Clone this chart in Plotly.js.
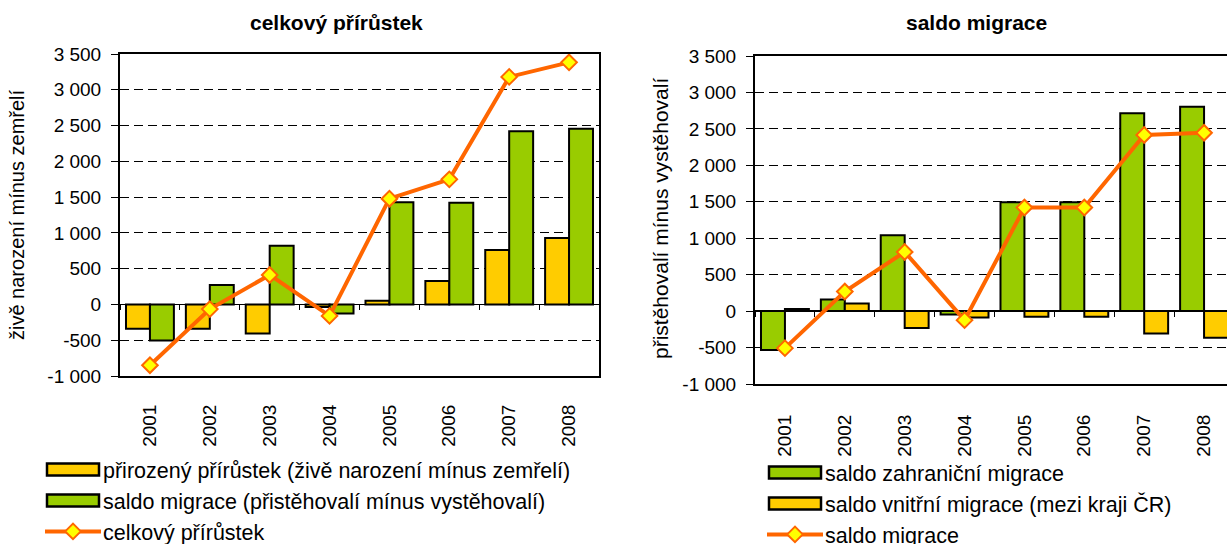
<!DOCTYPE html>
<html>
<head>
<meta charset="utf-8">
<script src="https://cdn.plot.ly/plotly-3.0.1.min.js"></script>
<style>
  html, body { margin: 0; padding: 0; overflow: hidden; background: #fff; }
  #chart { width: 1240px; height: 544px; }
</style>
</head>
<body>
<div id="chart"></div>
<script>
// ---------- data ----------
const years = ["2001", "2002", "2003", "2004", "2005", "2006", "2007", "2008"];

// left chart: celkový přírůstek
const prirozenyPrirustek = [-340, -340, -405, -37, 50, 326, 760, 928];
const saldoMigrace = [-504, 270, 820, -126, 1427, 1422, 2420, 2457];
const celkovyPrirustek = [-850, -65, 412, -160, 1478, 1748, 3180, 3383];

// right chart: saldo migrace
const saldoZahranicni = [-535, 160, 1042, -45, 1494, 1494, 2714, 2805];
const saldoVnitrni = [30, 105, -233, -86, -78, -78, -306, -366];
const saldoMigraceCelkem = [-508, 268, 812, -124, 1421, 1421, 2417, 2447];

const yTickVals = [-1000, -500, 0, 500, 1000, 1500, 2000, 2500, 3000, 3500];
const yTickText = ["-1 000", "-500", "0", "500", "1 000", "1 500", "2 000", "2 500", "3 000", "3 500"];

const leftTitle = "celkový přírůstek";
const rightTitle = "saldo migrace";
const leftYTitle = "živě narození mínus zemřelí";
const rightYTitle = "přistěhovalí mínus vystěhovalí";
const namesLeft = ["přirozený přírůstek (živě narození mínus zemřelí)", "saldo migrace (přistěhovalí mínus vystěhovalí)", "celkový přírůstek"];
const namesRight = ["saldo zahraniční migrace", "saldo vnitřní migrace (mezi kraji ČR)", "saldo migrace"];

// ---------- styling ----------
const W = 1240, H = 544;
const fx = p => p / W;
const fy = p => 1 - p / H;
const FONT = "Liberation Sans, Arial, sans-serif";
const YELLOW = "#FFCC00", GREEN = "#99CC00", ORANGE = "#FF6600", MARK = "#FFFF00";
const YMIN = -1000, YMAX = 3500;
const TICK_SIZE = 19, TEXT_SIZE = 21.5;
const LEGEND_TEXT_X = 70;

const L = { x0: 120, x1: 599, y0: 54, y1: 376 };
const R = { x0: 755, x1: 1234, y0: 56, y1: 384 };

function barTrace(name, y, color, xa, ya, lg) {
  return { type: "bar", name: name, x: years, y: y, xaxis: xa, yaxis: ya, legend: lg,
    marker: { color: color, line: { color: "#000", width: 2 } } };
}
function lineTrace(name, y, xa, ya, lg) {
  return { type: "scatter", mode: "lines+markers", name: name, x: years, y: y, xaxis: xa, yaxis: ya, legend: lg,
    line: { color: ORANGE, width: 4 },
    marker: { symbol: "diamond", size: 12, color: MARK, line: { color: ORANGE, width: 2 } } };
}
function ghost(xa, ya) {
  return { type: "scatter", mode: "markers", x: years, y: years.map(() => null), xaxis: xa, yaxis: ya,
    showlegend: false, hoverinfo: "skip", marker: { opacity: 0 } };
}

const data = [
  barTrace(namesLeft[0], prirozenyPrirustek, YELLOW, "x", "y", "legend"),
  barTrace(namesLeft[1], saldoMigrace, GREEN, "x", "y", "legend"),
  lineTrace(namesLeft[2], celkovyPrirustek, "x", "y", "legend"),
  barTrace(namesRight[0], saldoZahranicni, GREEN, "x2", "y2", "legend2"),
  barTrace(namesRight[1], saldoVnitrni, YELLOW, "x2", "y2", "legend2"),
  lineTrace(namesRight[2], saldoMigraceCelkem, "x2", "y2", "legend2"),
  ghost("x3", "y"),
  ghost("x4", "y2")
];

function xAxis(box, ya, standoff) {
  return { domain: [fx(box.x0), fx(box.x1)], anchor: ya, type: "category", categoryorder: "array",
    categoryarray: years, range: [-0.5, 7.5], showline: true, mirror: true, linecolor: "#000", linewidth: 2,
    ticks: "", tickangle: -90, ticklabelstandoff: standoff, showgrid: false, zeroline: false, automargin: false,
    tickfont: { family: FONT, size: TICK_SIZE, color: "#000" }, fixedrange: true };
}
function yAxis(box, xa) {
  return { domain: [fy(box.y1), fy(box.y0)], anchor: xa, range: [YMIN, YMAX], tickmode: "array",
    tickvals: yTickVals, ticktext: yTickText, showline: true, mirror: true, linecolor: "#000", linewidth: 2,
    ticks: "outside", ticklen: 7, tickcolor: "#000", tickwidth: 1, ticklabelstandoff: 6, automargin: false,
    showgrid: true, gridcolor: "#000", gridwidth: 1, griddash: "9px,5px",
    zeroline: true, zerolinecolor: "#000", zerolinewidth: 1.5,
    tickfont: { family: FONT, size: TICK_SIZE, color: "#000" }, fixedrange: true };
}
function zeroTickAxis(box, over) {
  const pos = fy(box.y1) + (0 - YMIN) / (YMAX - YMIN) * (fy(box.y0) - fy(box.y1));
  return { overlaying: over, anchor: "free", position: pos, side: "bottom", type: "category",
    categoryorder: "array", categoryarray: years, range: [-0.5, 7.5], domain: [fx(box.x0), fx(box.x1)],
    ticks: "outside", tickson: "boundaries", ticklen: 5, tickcolor: "#000", tickwidth: 1, automargin: false,
    showticklabels: false, showline: false, showgrid: false, zeroline: false, fixedrange: true };
}

const legendCommon = { xanchor: "left", yanchor: "top", bgcolor: "rgba(0,0,0,0)", borderwidth: 0,
  font: { family: FONT, size: TEXT_SIZE, color: "#000" }, itemwidth: 60, traceorder: "normal", tracegroupgap: 0 };

const layout = {
  width: W, height: H, margin: { l: 0, r: 0, t: 0, b: 0, pad: 0, autoexpand: false },
  paper_bgcolor: "#fff", plot_bgcolor: "#fff",
  font: { family: FONT, size: TEXT_SIZE, color: "#000" },
  barmode: "group", bargap: 0.2, bargroupgap: 0, showlegend: true,
  xaxis: xAxis(L, "y", 19), yaxis: yAxis(L, "x"),
  xaxis2: xAxis(R, "y2", 21), yaxis2: yAxis(R, "x2"),
  xaxis3: zeroTickAxis(L, "x"), xaxis4: zeroTickAxis(R, "x2"),
  legend: Object.assign({ x: fx(33), y: fy(449) }, legendCommon),
  legend2: Object.assign({ x: fx(755), y: fy(452) }, legendCommon),
  annotations: [
    { text: "<b>" + leftTitle + "</b>", xref: "paper", yref: "paper", x: fx(336), y: fy(23), showarrow: false,
      xanchor: "center", yanchor: "middle", font: { family: FONT, size: 21, color: "#000" } },
    { text: "<b>" + rightTitle + "</b>", xref: "paper", yref: "paper", x: fx(976), y: fy(23), showarrow: false,
      xanchor: "center", yanchor: "middle", font: { family: FONT, size: 21, color: "#000" } },
    { text: leftYTitle, xref: "paper", yref: "paper", x: fx(17), y: fy(215), showarrow: false, textangle: -90,
      xanchor: "center", yanchor: "middle", font: { family: FONT, size: 20, color: "#000" } },
    { text: rightYTitle, xref: "paper", yref: "paper", x: fx(660), y: fy(219), showarrow: false, textangle: -90,
      xanchor: "center", yanchor: "middle", font: { family: FONT, size: 21, color: "#000" } }
  ]
};

function widenLegendSymbols(gd) {
  gd.querySelectorAll("g.traces").forEach(function (g) {
    const t = g.querySelector("text.legendtext");
    const tx = (t && parseFloat(t.getAttribute("x"))) || LEGEND_TEXT_X;
    const x0 = tx - 56, x1 = tx - 4, cx = (x0 + x1) / 2;
    const isScatter = g.querySelector("path.scatterpts") !== null;
    if (isScatter) {
      g.querySelectorAll("g.legendlines path").forEach(function (p) {
        p.setAttribute("transform", "");
        p.setAttribute("d", "M" + (x0 - 2) + ",0H" + (x1 + 2));
      });
      g.querySelectorAll("path.scatterpts").forEach(function (p) {
        p.setAttribute("transform", "translate(" + cx + ",0)");
      });
    } else {
      g.querySelectorAll("g.legendpoints path").forEach(function (p) {
        p.setAttribute("transform", "");
        p.setAttribute("d", "M" + x0 + ",6H" + x1 + "V-6H" + x0 + "Z");
        p.style.strokeWidth = "2.5px";
      });
    }
  });
}

Plotly.newPlot("chart", data, layout, { staticPlot: true, displayModeBar: false }).then(function (gd) {
  widenLegendSymbols(gd);
  setTimeout(function () { widenLegendSymbols(gd); }, 50);
});
</script>
</body>
</html>
